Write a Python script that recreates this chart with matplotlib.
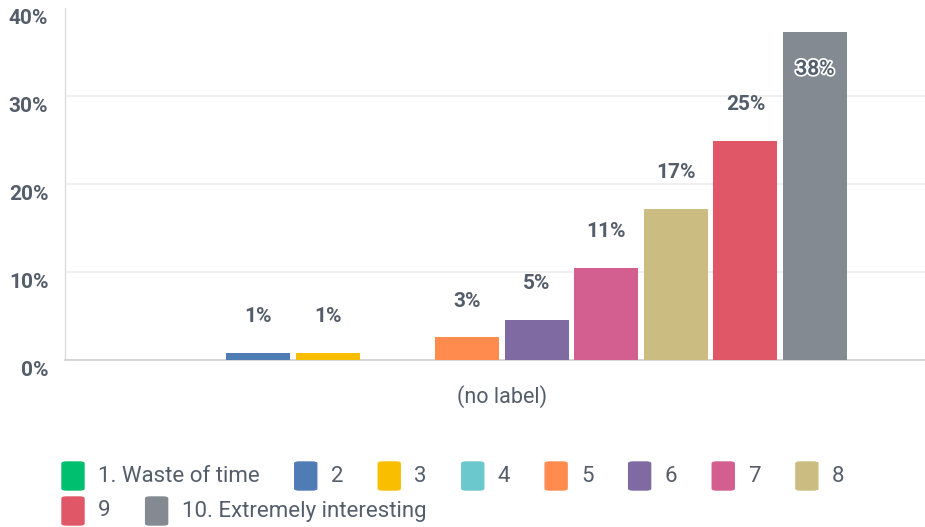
import matplotlib.pyplot as plt
import matplotlib.patheffects as pe
from matplotlib.patches import FancyBboxPatch
from matplotlib.transforms import ScaledTranslation

# data
categories = ["(no label)"]
series = ["1. Waste of time", "2", "3", "4", "5", "6", "7", "8", "9",
          "10. Extremely interesting"]
values = [0.0, 0.83, 0.83, 0.0, 2.6, 4.6, 10.45, 17.2, 24.9, 37.3]
value_labels = ["", "1%", "1%", "", "3%", "5%", "11%", "17%", "25%", "38%"]
colors = ["#00bf6f", "#507cb6", "#f9be00", "#6bc8cd", "#ff8b4f",
          "#7f6aa1", "#d25f90", "#cbbd82", "#e05767", "#838a91"]
yticks = [0, 10, 20, 30, 40]
ytick_labels = ["0%", "10%", "20%", "30%", "40%"]

TEXT = "#545e6b"
W, H = 925, 527


def main():
    plt.rcParams['font.family'] = ['Roboto', 'DejaVu Sans']
    fig = plt.figure(figsize=(W / 100, H / 100), dpi=100)
    ax = fig.add_axes([65 / W, 1 - 360 / H, 860 / W, 352 / H])

    n = len(series)
    for i, (name, v) in enumerate(zip(series, values)):
        x = i - (n - 1) / 2
        ax.bar(x, v, width=0.92, color=colors[i], label=name, zorder=3)
        lab = value_labels[i]
        if not lab:
            continue
        if v > 33:
            t = ax.annotate(lab, (x, v), xytext=(0, -27), textcoords='offset points',
                            ha='center', va='center', fontsize=15, fontweight='bold',
                            color=TEXT, zorder=4)
            t.set_path_effects([pe.withStroke(linewidth=2.5, foreground='white')])
        else:
            ax.annotate(lab, (x, v), xytext=(0, 26), textcoords='offset points',
                        ha='center', va='center', fontsize=15, fontweight='bold',
                        color=TEXT, zorder=4)

    ax.set_xlim(-6.28, 6.08)
    ax.set_ylim(0, 40)
    ax.set_xticks([0])
    ax.set_xticklabels(categories, fontsize=15.5, color=TEXT)
    ax.tick_params(axis='x', length=0, pad=18)
    ax.set_yticks(yticks)
    ax.set_yticklabels(ytick_labels, fontsize=15, fontweight='bold', color=TEXT)
    ax.tick_params(axis='y', length=0, pad=12)
    offset = ScaledTranslation(0, -8 / 100, fig.dpi_scale_trans)
    for lbl in ax.get_yticklabels():
        lbl.set_transform(lbl.get_transform() + offset)

    ax.grid(axis='y', color='#ececec', linewidth=1.2, zorder=0)
    ax.get_ygridlines()[-1].set_visible(False)
    for s in ['top', 'right']:
        ax.spines[s].set_visible(False)
    ax.spines['left'].set_color('#d6d6d6')
    ax.spines['bottom'].set_color('#cfcfcf')
    ax.spines['bottom'].set_linewidth(1.2)

    # legend drawn as a flow layout, like the reference
    renderer = fig.canvas.get_renderer()
    rows = [series[:8], series[8:]]
    row_y = [476, 511]
    k = 0
    for names, yc in zip(rows, row_y):
        x = 62
        for name in names:
            box = FancyBboxPatch(((x) / W, 1 - (yc + 14) / H), 22 / W, 28 / H,
                                 boxstyle="round,pad=0,rounding_size=0.005",
                                 transform=fig.transFigure, color=colors[k],
                                 mutation_aspect=H / W)
            fig.patches.append(box)
            t = fig.text((x + 36) / W, 1 - yc / H, name, fontsize=16,
                         color=TEXT, va='center', ha='left')
            wpx = t.get_window_extent(renderer).width
            x = x + 36 + wpx + 35
            k += 1

    fig.savefig("out.png", dpi=100, facecolor='white')
    plt.close(fig)


if __name__ == "__main__":
    main()
